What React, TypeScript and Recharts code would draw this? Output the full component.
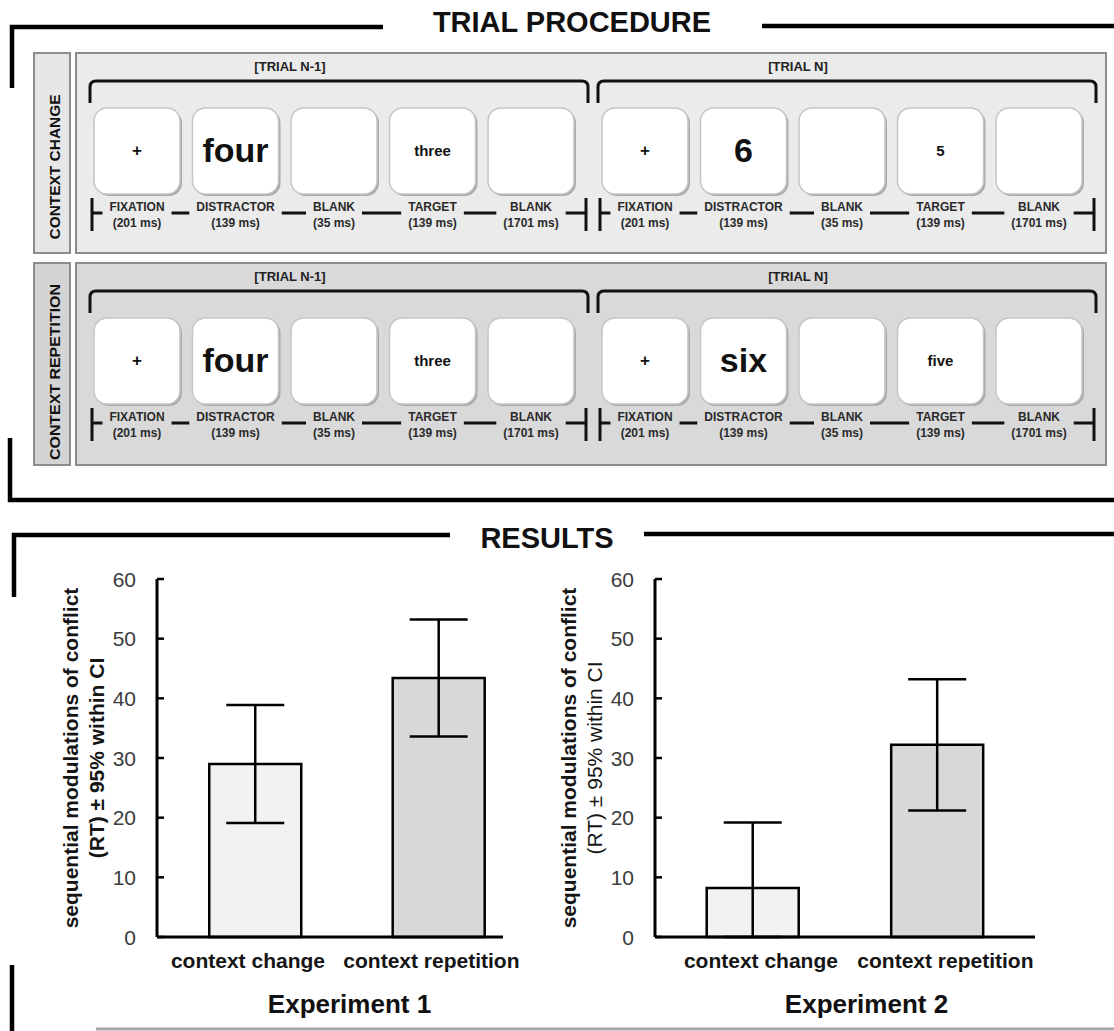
import React from 'react';
import { BarChart, Bar, XAxis, YAxis, ErrorBar, Cell } from 'recharts';

const FONT = '"Liberation Sans", Arial, Helvetica, sans-serif';

// ---------- chart data ----------
const categories = ['context change', 'context repetition'];
const categoryPositions = [1, 2];
const exp1Means = [29.0, 43.4];
const exp1CI = [9.9, 9.8];
const exp2Means = [8.2, 32.2];
const exp2CI = [11.0, 11.0];
const yTicks = [0, 10, 20, 30, 40, 50, 60];
const barFills = ['#f2f2f2', '#d8d8d8'];
const experimentTitles = ['Experiment 1', 'Experiment 2'];
const yLabelLines = ['sequential modulations of conflict', '(RT) ± 95% within CI'];

// ---------- diagram texts ----------
const sectionTitles = ['TRIAL PROCEDURE', 'RESULTS'];
const contextLabels = ['CONTEXT  CHANGE', 'CONTEXT REPETITION'];
const trialLabels = ['[TRIAL N-1]', '[TRIAL N]'];
const stageNames = ['FIXATION', 'DISTRACTOR', 'BLANK', 'TARGET', 'BLANK'];
const stageDurations = ['(201 ms)', '(139 ms)', '(35 ms)', '(139 ms)', '(1701 ms)'];
const changeStimuli = [
  ['+', 'four', '', 'three', ''],
  ['+', '6', '', '5', ''],
];
const repetitionStimuli = [
  ['+', 'four', '', 'three', ''],
  ['+', 'six', '', 'five', ''],
];

// ---------- layout / style ----------
const stimulusSizes = [17, 34, 0, 15, 0];
const panelTops = [53, 263];
const panelHeights = [200, 202];
const panelFills = ['#ebebeb', '#d9d9d9'];
const labelFills = ['#e6e6e6', '#d4d4d4'];
const labelCenters = [114, 109];
const labelLengths = [145, 176];
const bracketX = [
  [90, 588],
  [598, 1096],
];
const trialBoxX = [94, 602];
const BOX_W = 86;
const BOX_STEP = 98.5;

let measureCtx: any = null;
function textWidth(s: string, font: string): number {
  try {
    if (!measureCtx) measureCtx = document.createElement('canvas').getContext('2d');
    measureCtx.font = font;
    return measureCtx.measureText(s).width;
  } catch (e) {
    return s.length * 7.5;
  }
}

function Trial({ y0, t, stimuli }: { y0: number; t: number; stimuli: string[] }) {
  const [bx0, bx1] = bracketX[t];
  const centers = stageNames.map((_, i) => trialBoxX[t] + i * BOX_STEP + BOX_W / 2);
  const labFont = `bold 12px ${FONT}`;
  const halfW = stageNames.map(
    (n, i) => Math.max(textWidth(n, labFont), textWidth(stageDurations[i], labFont)) / 2
  );
  const gap = 7;
  const pts: number[] = [bx0 + 2];
  centers.forEach((c, i) => {
    pts.push(c - halfW[i] - gap);
    pts.push(c + halfW[i] + gap);
  });
  pts.push(bx1 - 2);
  const segs: [number, number][] = [];
  for (let i = 0; i < pts.length; i += 2) segs.push([pts[i], pts[i + 1]]);
  const ly = y0 + 160;
  return (
    <g>
      <text
        x={(bx0 + bx1) / 2 - 49}
        y={y0 + 18}
        textAnchor="middle"
        fontWeight="bold"
        fontSize={13}
        fill="#222"
      >
        {trialLabels[t]}
      </text>
      <path
        d={`M${bx0} ${y0 + 50} L${bx0} ${y0 + 34} Q${bx0} ${y0 + 28} ${bx0 + 6} ${y0 + 28} L${bx1 - 6} ${y0 + 28} Q${bx1} ${y0 + 28} ${bx1} ${y0 + 34} L${bx1} ${y0 + 50}`}
        stroke="#111"
        strokeWidth={3}
        fill="none"
      />
      {centers.map((c, i) => (
        <g key={i}>
          <rect x={c - BOX_W / 2 + 2} y={y0 + 57} width={BOX_W} height={BOX_W} rx={13} fill="#a9a9a9" />
          <rect
            x={c - BOX_W / 2}
            y={y0 + 55}
            width={BOX_W}
            height={BOX_W}
            rx={13}
            fill="#ffffff"
            stroke="#c6c6c6"
            strokeWidth={1.5}
          />
          {stimuli[i] ? (
            <text
              x={c}
              y={y0 + 97}
              textAnchor="middle"
              dominantBaseline="central"
              fontWeight="bold"
              fontSize={stimulusSizes[i]}
              fill="#111"
            >
              {stimuli[i]}
            </text>
          ) : null}
          <text x={c} y={y0 + 158} textAnchor="middle" fontWeight="bold" fontSize={12} fill="#2a2a2a">
            {stageNames[i]}
          </text>
          <text x={c} y={y0 + 174} textAnchor="middle" fontWeight="bold" fontSize={12} fill="#2a2a2a">
            {stageDurations[i]}
          </text>
        </g>
      ))}
      {segs.map(([a, b], i) => (
        <line key={i} x1={a} x2={b} y1={ly} y2={ly} stroke="#111" strokeWidth={3} />
      ))}
      <line x1={bx0 + 2} x2={bx0 + 2} y1={y0 + 145} y2={y0 + 178} stroke="#111" strokeWidth={3} />
      <line x1={bx1 - 2} x2={bx1 - 2} y1={y0 + 145} y2={y0 + 178} stroke="#111" strokeWidth={3} />
    </g>
  );
}

function Panel({ index }: { index: number }) {
  const y0 = panelTops[index];
  const h = panelHeights[index];
  const stim = index === 0 ? changeStimuli : repetitionStimuli;
  const cy = y0 + labelCenters[index];
  return (
    <g>
      <rect x={34} y={y0} width={36} height={h} fill={labelFills[index]} stroke="#8c8c8c" strokeWidth={2} />
      <text
        transform={`translate(54 ${cy}) rotate(-90)`}
        textAnchor="middle"
        dominantBaseline="central"
        fontWeight="bold"
        fontSize={15}
        fill="#111"
        textLength={labelLengths[index]}
        lengthAdjust="spacingAndGlyphs"
      >
        {contextLabels[index]}
      </text>
      <rect x={76} y={y0} width={1030} height={h} fill={panelFills[index]} stroke="#8c8c8c" strokeWidth={2} />
      {trialLabels.map((_, t) => (
        <Trial key={t} y0={y0} t={t} stimuli={stim[t]} />
      ))}
    </g>
  );
}

function Decorations() {
  const thick = 4.5;
  return (
    <svg width={1114} height={1031} style={{ position: 'absolute', left: 0, top: 0 }} fontFamily={FONT}>
      <path d="M12 88 L12 27 L383 27" stroke="#000" strokeWidth={thick} fill="none" />
      <line x1={762} y1={26} x2={1114} y2={26} stroke="#000" strokeWidth={thick} />
      <text x={572} y={32} textAnchor="middle" fontWeight="bold" fontSize={29} fill="#111">
        {sectionTitles[0]}
      </text>
      {panelTops.map((_, i) => (
        <Panel key={i} index={i} />
      ))}
      <path d="M10 438 L10 500 L1114 500" stroke="#000" strokeWidth={thick} fill="none" />
      <path d="M14 597 L14 535 L450 535" stroke="#000" strokeWidth={thick} fill="none" />
      <line x1={644} y1={534} x2={1114} y2={534} stroke="#000" strokeWidth={thick} />
      <text x={547} y={548} textAnchor="middle" fontWeight="bold" fontSize={29} fill="#111">
        {sectionTitles[1]}
      </text>
      <line x1={12} y1={965} x2={12} y2={1031} stroke="#000" strokeWidth={thick} />
      <line x1={96} y1={1029} x2={1114} y2={1029} stroke="#a8a8a8" strokeWidth={3} />
    </svg>
  );
}

type Row = { name: string; pos: number; value: number; err: [number, number] };

function buildRows(means: number[], ci: number[]): Row[] {
  return categories.map((name, i) => ({
    name,
    pos: categoryPositions[i],
    value: means[i],
    err: [Math.min(ci[i], means[i]), ci[i]],
  }));
}

const PLOT_H = 358;

function ExperimentChart({
  rows,
  left,
  width,
  margin,
  domain,
  labelDx,
  titleDx,
  title,
  secondBold,
}: {
  rows: Row[];
  left: number;
  width: number;
  margin: { top: number; right: number; bottom: number; left: number };
  domain: [number, number];
  labelDx: number;
  titleDx: number;
  title: string;
  secondBold: boolean;
}) {
  const Y_W = 60;
  const axisX = margin.left + Y_W;
  const plotW = width - axisX - margin.right;
  const axisY = margin.top + PLOT_H;
  const XTick = (p: any) => (
    <text
      x={p.x + labelDx}
      y={p.y + 31}
      textAnchor="middle"
      fontWeight="bold"
      fontSize={21}
      fill="#151515"
      fontFamily={FONT}
    >
      {categories[categoryPositions.indexOf(p.payload.value)]}
    </text>
  );
  const YTick = (p: any) => (
    <g>
      <line x1={p.x} x2={p.x + 7} y1={p.y} y2={p.y} stroke="#000" strokeWidth={2.5} />
      <text
        x={p.x - 21}
        y={p.y}
        dy="0.36em"
        textAnchor="end"
        fontSize={21}
        fill="#3c3c3c"
        fontFamily={FONT}
      >
        {p.payload.value}
      </text>
    </g>
  );
  const yLabel = () => {
    const cy = margin.top + PLOT_H / 2;
    const x1 = axisX - 87;
    const x2 = axisX - 61;
    return (
      <g fontFamily={FONT} fill="#151515">
        <text
          transform={`translate(${x1} ${cy}) rotate(-90)`}
          textAnchor="middle"
          dominantBaseline="central"
          fontWeight="bold"
          fontSize={21}
        >
          {yLabelLines[0]}
        </text>
        <text
          transform={`translate(${x2} ${cy}) rotate(-90)`}
          textAnchor="middle"
          dominantBaseline="central"
          fontWeight={secondBold ? 'bold' : 'normal'}
          fontSize={21}
        >
          {yLabelLines[1]}
        </text>
      </g>
    );
  };
  const titleLabel = () => (
    <text
      x={axisX + plotW / 2 + titleDx}
      y={axisY + 76}
      textAnchor="middle"
      fontWeight="bold"
      fontSize={26}
      fill="#111"
      fontFamily={FONT}
    >
      {title}
    </text>
  );
  return (
    <div style={{ position: 'absolute', left, top: 520 }}>
      <BarChart width={width} height={510} data={rows} margin={margin}>
        <XAxis
          type="number"
          dataKey="pos"
          domain={domain}
          ticks={categoryPositions}
          interval={0}
          allowDataOverflow
          axisLine={{ stroke: '#000', strokeWidth: 3 }}
          tickLine={false}
          tickSize={0}
          tickMargin={0}
          height={60}
          tick={XTick}
          label={{ content: titleLabel }}
        />
        <YAxis
          type="number"
          domain={[0, 60]}
          ticks={yTicks}
          interval={0}
          width={Y_W}
          axisLine={{ stroke: '#000', strokeWidth: 3 }}
          tickLine={false}
          tickSize={0}
          tickMargin={0}
          tick={YTick}
          label={{ content: yLabel }}
        />
        <Bar dataKey="value" barSize={92} stroke="#000" strokeWidth={2.5} isAnimationActive={false}>
          {rows.map((r, i) => (
            <Cell key={r.name} fill={barFills[i]} />
          ))}
          <ErrorBar
            dataKey="err"
            width={29}
            stroke="#000"
            strokeWidth={2.5}
            direction="y"
            isAnimationActive={false}
          />
        </Bar>
      </BarChart>
    </div>
  );
}

export default function App() {
  const rows1 = buildRows(exp1Means, exp1CI);
  const rows2 = buildRows(exp2Means, exp2CI);
  return (
    <div
      style={{
        position: 'absolute',
        left: 0,
        top: 0,
        width: 1114,
        height: 1031,
        overflow: 'hidden',
        background: '#ffffff',
        fontFamily: FONT,
      }}
    >
      <Decorations />
      <ExperimentChart
        rows={rows1}
        left={0}
        width={560}
        margin={{ top: 59, right: 57, bottom: 33, left: 97 }}
        domain={[0.466, 2.352]}
        labelDx={-7}
        titleDx={19.5}
        title={experimentTitles[0]}
        secondBold={true}
      />
      <ExperimentChart
        rows={rows2}
        left={500}
        width={600}
        margin={{ top: 59, right: 65, bottom: 33, left: 95 }}
        domain={[0.469, 2.529]}
        labelDx={8}
        titleDx={21.5}
        title={experimentTitles[1]}
        secondBold={false}
      />
    </div>
  );
}
